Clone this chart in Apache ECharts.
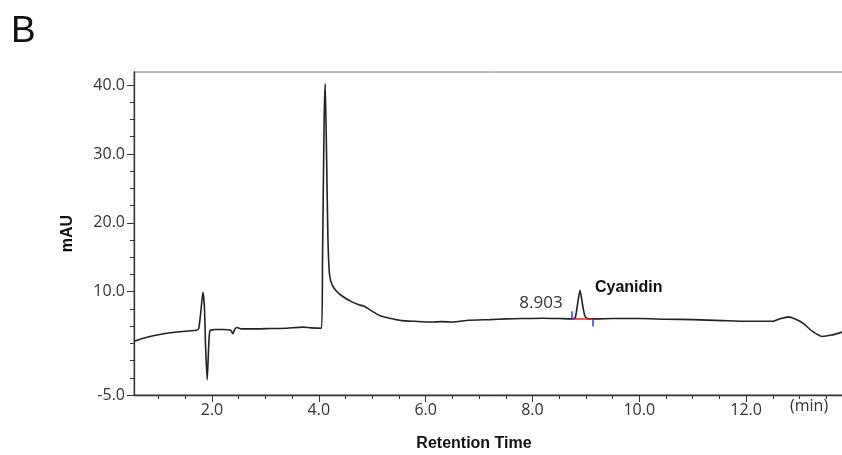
<!DOCTYPE html>
<html>
<head>
<meta charset="utf-8">
<script src="https://cdn.jsdelivr.net/npm/echarts@6/dist/echarts.min.js"></script>
<style>
  html, body { margin: 0; padding: 0; background: #fff; }
  #grafico { width: 842px; height: 455px; }
</style>
</head>
<body>
<div id="grafico"></div>
<script>
const tiempos = [
  0.54, 0.70, 0.90, 1.10, 1.30, 1.50, 1.70, 1.75, 1.79, 1.83, 1.86, 1.88, 1.91, 1.93, 1.96,
  2.05, 2.20, 2.35, 2.39, 2.43, 2.47, 2.55, 2.80, 3.10, 3.40, 3.70, 3.85, 4.05,
  4.07, 4.10, 4.12, 4.145, 4.17, 4.20, 4.25, 4.34, 4.45, 4.60, 4.75, 4.85, 4.95,
  5.15, 5.35, 5.55, 5.80, 6.10, 6.30, 6.50, 6.80, 7.20, 7.50, 7.80, 8.20, 8.50,
  8.74, 8.80, 8.85, 8.89, 8.93, 8.98, 9.04, 9.20, 9.50, 10.0, 10.5, 11.0, 11.57,
  12.0, 12.49, 12.65, 12.79, 12.93, 13.07, 13.25, 13.43, 13.60, 13.83, 14.02
];
const absorbancia = [
  2.8, 3.2, 3.6, 3.9, 4.1, 4.25, 4.4, 4.6, 7.0, 9.9, 7.5, 2.0, -2.8, 0.5, 4.3,
  4.5, 4.5, 4.4, 3.9, 4.6, 4.8, 4.6, 4.6, 4.65, 4.7, 4.85, 4.75, 4.7,
  15, 35, 40.2, 30, 18, 12.5, 11.0, 10.0, 9.3, 8.6, 8.1, 7.9, 7.4,
  6.5, 6.1, 5.8, 5.7, 5.6, 5.65, 5.6, 5.85, 5.95, 6.05, 6.1, 6.15, 6.1,
  6.05, 6.2, 8.5, 10.2, 8.5, 6.5, 6.05, 6.05, 6.1, 6.1, 6.0, 5.95, 5.8,
  5.7, 5.7, 6.1, 6.35, 6.0, 5.4, 4.2, 3.5, 3.7, 4.2, 4.6
];

// marcas de los ejes
const xEtiquetas = [2, 4, 6, 8, 10, 12];
const xMenores = [1, 1.5, 2.5, 3, 3.5, 4.5, 5, 5.5, 6.5, 7, 7.5, 8.5, 9, 9.5, 10.5, 11, 11.5, 12.5, 13, 13.5];
const yEtiquetas = [-5, 10, 20, 30, 40];
const yMenores = [-2.5, 0, 2.5, 5, 7.5, 12.5, 15, 17.5, 22.5, 25, 27.5, 32.5, 35, 37.5];

// integracion del pico de cianidina
const picoTiempo = 8.903;
const picoNombre = 'Cyanidin';
const integracionInicio = 8.74;
const integracionFin = 9.13;
const integracionBase = 6.05;

const X_MIN = 0.54, X_MAX = 14.02, Y_MIN = -5, Y_MAX = 41.9;

const miGrafico = echarts.init(document.getElementById('grafico'));

const fuenteEje = 'Open Sans, Liberation Sans, sans-serif';
const fuenteTitulo = 'Liberation Sans, Arial, sans-serif';

const opciones = {
  animation: false,
  backgroundColor: '#fff',
  grid: {
    left: 134, top: 72, width: 720, bottom: 60,
    outerBoundsMode: 'none',
    show: true, borderColor: '#777', borderWidth: 1
  },
  graphic: [
    {
      type: 'text', left: 11, top: 13,
      style: { text: 'B', fontSize: 37, fontFamily: fuenteTitulo, fill: '#111' }
    },
    {
      type: 'text', left: 790, top: 398,
      style: { text: '(min)', fontSize: 16, fontFamily: fuenteEje, fill: '#333' }
    }
  ],
  xAxis: [
    {
      type: 'value', min: X_MIN, max: X_MAX,
      name: 'Retention Time', nameLocation: 'middle', nameGap: 41,
      nameTextStyle: { fontFamily: fuenteTitulo, fontWeight: 'bold', fontSize: 16, color: '#111', padding: [0, 40, 0, 0] },
      axisLine: { show: true, onZero: false, lineStyle: { color: '#333', width: 1.3 } },
      axisTick: { show: true, customValues: xEtiquetas, length: 7, lineStyle: { color: '#333' } },
      axisLabel: {
        customValues: xEtiquetas, margin: 7,
        formatter: v => v.toFixed(1),
        fontFamily: fuenteEje, fontSize: 16, color: '#333'
      },
      splitLine: { show: false }
    },
    {
      type: 'value', position: 'bottom', min: X_MIN, max: X_MAX,
      axisLine: { show: false, onZero: false },
      axisTick: { show: true, customValues: xMenores, length: 4, lineStyle: { color: '#333' } },
      axisLabel: { show: false },
      splitLine: { show: false }
    }
  ],
  yAxis: [
    {
      type: 'value', min: Y_MIN, max: Y_MAX,
      name: 'mAU', nameLocation: 'middle', nameGap: 58, nameRotate: 90,
      nameTextStyle: { fontFamily: fuenteTitulo, fontWeight: 'bold', fontSize: 16, color: '#111' },
      axisLine: { show: true, onZero: false, lineStyle: { color: '#333', width: 1.3 } },
      axisTick: { show: true, customValues: yEtiquetas, length: 7, lineStyle: { color: '#333' } },
      axisLabel: {
        customValues: yEtiquetas, margin: 9,
        formatter: v => v.toFixed(1),
        fontFamily: fuenteEje, fontSize: 16, color: '#333'
      },
      splitLine: { show: false }
    },
    {
      type: 'value', position: 'left', min: Y_MIN, max: Y_MAX,
      axisLine: { show: false, onZero: false },
      axisTick: { show: true, customValues: yMenores, length: 4, lineStyle: { color: '#333' } },
      axisLabel: { show: false },
      splitLine: { show: false }
    }
  ],
  series: [
    {
      type: 'line',
      data: tiempos.map((t, i) => [t, absorbancia[i]]),
      showSymbol: false,
      smooth: 0.2,
      clip: true,
      lineStyle: { color: '#222', width: 1.6 },
      markLine: {
        silent: true,
        symbol: 'none',
        label: { show: false },
        data: [
          [
            { coord: [integracionInicio, integracionBase], lineStyle: { color: '#e8242a', width: 1.5, type: 'solid' } },
            { coord: [integracionFin, integracionBase] }
          ],
          [
            { coord: [integracionInicio, integracionBase], lineStyle: { color: '#2a3cf0', width: 1.5, type: 'solid' } },
            { coord: [integracionInicio, integracionBase + 1.1] }
          ],
          [
            { coord: [integracionFin, integracionBase], lineStyle: { color: '#2a3cf0', width: 1.5, type: 'solid' } },
            { coord: [integracionFin, integracionBase - 1.1] }
          ]
        ]
      },
      markPoint: {
        silent: true,
        symbol: 'circle',
        symbolSize: 0,
        data: [
          {
            coord: [8.16, 8.4],
            label: {
              show: true, position: 'inside', formatter: picoTiempo.toFixed(3),
              fontFamily: fuenteEje, fontSize: 17, color: '#333'
            }
          },
          {
            coord: [9.17, 10.6],
            label: {
              show: true, position: 'right', distance: 0, formatter: picoNombre,
              fontFamily: fuenteTitulo, fontWeight: 'bold', fontSize: 16, color: '#111'
            }
          }
        ]
      }
    }
  ]
};

miGrafico.setOption(opciones);
</script>
</body>
</html>
